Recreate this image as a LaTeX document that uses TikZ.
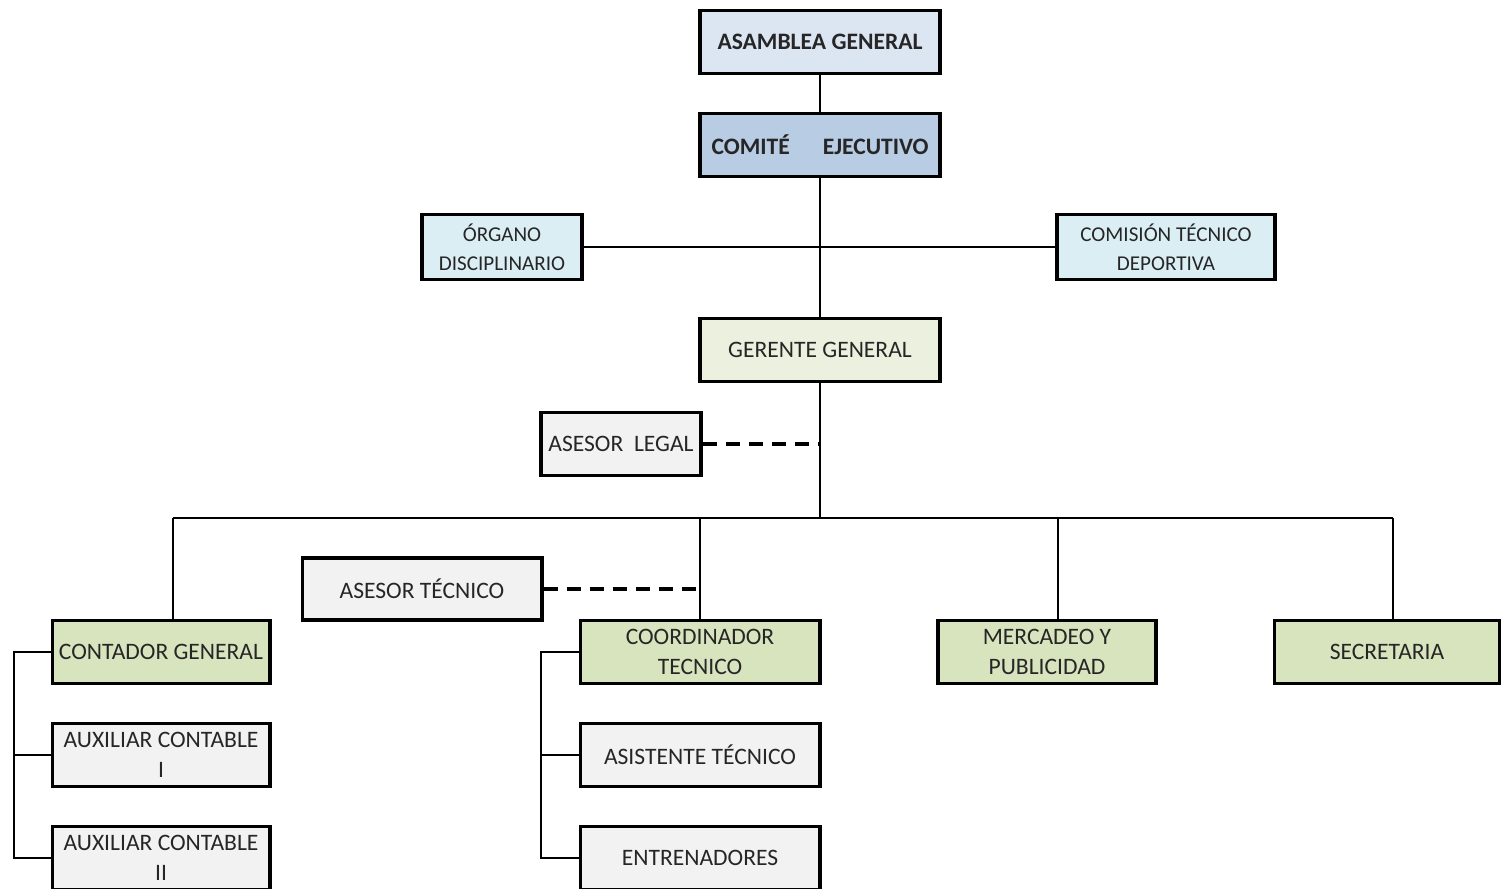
\documentclass[tikz,border=0pt]{standalone}
\usepackage{fontspec}
\setmainfont{Carlito}
\definecolor{asamb}{HTML}{DCE6F2}
\definecolor{comite}{HTML}{B8CCE4}
\definecolor{cyanbox}{HTML}{DBEEF4}
\definecolor{gerbox}{HTML}{EBF1DE}
\definecolor{greenbox}{HTML}{D7E4BD}
\definecolor{graybox}{HTML}{F2F2F2}
\definecolor{txt}{HTML}{262626}
\begin{document}
\begin{tikzpicture}[x=0.01cm, y=-0.01cm,
  box/.style={draw=black, line width=1.1pt, minimum height=0.63cm, align=center, inner sep=1pt,
    text=txt, font=\fontsize{6.7}{8.7}\selectfont},
  boldbox/.style={box, font=\fontsize{6.7}{8.7}\bfseries},
  smallbox/.style={box, font=\fontsize{6}{8.2}\selectfont},
  conn/.style={line width=0.55pt},
  dashconn/.style={line width=0.9pt, dash pattern=on 0.14cm off 0.09cm}]
  \useasboundingbox (0,0) rectangle (1501,889);
  \node[boldbox, fill=asamb, minimum width=2.4cm] (asamblea) at (820,42) {ASAMBLEA GENERAL};
  \node[boldbox, fill=comite, minimum width=2.4cm] (comite) at (820,145) {COMITÉ\hspace{0.33cm}EJECUTIVO};
  \node[smallbox, fill=cyanbox, minimum width=1.6cm, minimum height=0.65cm] (organo) at (502,247) {ÓRGANO\\DISCIPLINARIO};
  \node[smallbox, fill=cyanbox, minimum width=2.18cm, minimum height=0.65cm] (comision) at (1166,247) {COMISIÓN TÉCNICO\\DEPORTIVA};
  \node[box, fill=gerbox, minimum width=2.4cm] (gerente) at (820,350) {GERENTE GENERAL};
  \node[box, fill=graybox, minimum width=1.6cm] (legal) at (621,444) {ASESOR~~LEGAL};
  \node[box, fill=graybox, minimum width=2.39cm, minimum height=0.62cm] (tecnico) at (422,589) {ASESOR TÉCNICO};
  \node[box, fill=greenbox, minimum width=2.17cm] (contador) at (161,652) {CONTADOR GENERAL};
  \node[box, fill=graybox, minimum width=2.17cm] (aux1) at (161,755) {AUXILIAR CONTABLE\\I};
  \node[box, fill=graybox, minimum width=2.17cm] (aux2) at (161,858) {AUXILIAR CONTABLE\\II};
  \node[box, fill=greenbox, minimum width=2.39cm] (coord) at (700,652) {COORDINADOR\\TECNICO};
  \node[box, fill=graybox, minimum width=2.39cm] (asistente) at (700,755) {ASISTENTE TÉCNICO};
  \node[box, fill=graybox, minimum width=2.39cm] (entren) at (700,858) {ENTRENADORES};
  \node[box, fill=greenbox, minimum width=2.18cm] (mercadeo) at (1047,652) {MERCADEO Y\\PUBLICIDAD};
  \node[box, fill=greenbox, minimum width=2.25cm] (secret) at (1387,652) {SECRETARIA};
  \coordinate (d1) at (173,518);
  \coordinate (d2) at (700,518);
  \coordinate (d3) at (1058,518);
  \coordinate (d4) at (1393,518);
  \coordinate (lb) at (14,0);
  \coordinate (cb) at (541,0);
  \draw[conn] (asamblea) -- (comite);
  \draw[conn] (organo) -- (comision);
  \draw[conn] (comite) -- (gerente);
  \draw[conn] (gerente) -- (gerente |- d1);
  \draw[conn] (d1) -- (d4);
  \draw[conn] (d1) -- (d1 |- contador.north);
  \draw[conn] (d2) -- (d2 |- coord.north);
  \draw[conn] (d3) -- (d3 |- mercadeo.north);
  \draw[conn] (d4) -- (d4 |- secret.north);
  \draw[conn] (contador.west) -- (contador.west -| lb) |- (aux2.west);
  \draw[conn] (aux1.west) -- (aux1.west -| lb);
  \draw[conn] (coord.west) -- (coord.west -| cb) |- (entren.west);
  \draw[conn] (asistente.west) -- (asistente.west -| cb);
  \draw[dashconn] (legal) -- (legal -| gerente);
  \draw[dashconn] (tecnico) -- (tecnico -| d2);
\end{tikzpicture}
\end{document}
